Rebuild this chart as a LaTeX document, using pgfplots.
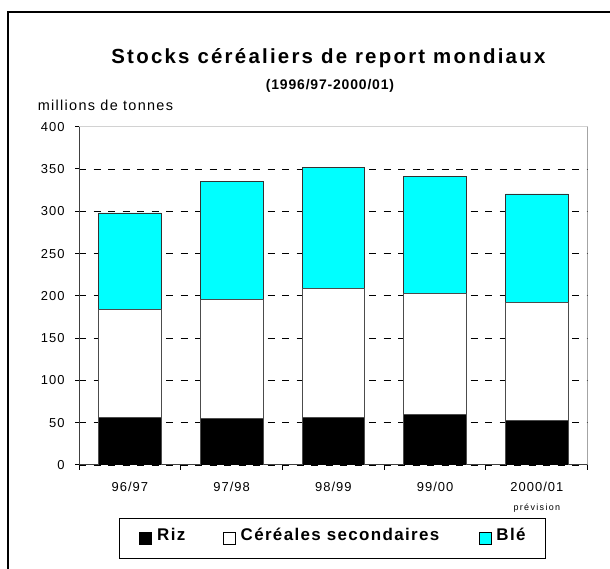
\documentclass[border=0pt]{standalone}
\usepackage{pgfplots}
\pgfplotsset{compat=1.18}
\usepackage{fontspec}
\setmainfont{Liberation Sans}
\definecolor{ble}{RGB}{0,255,255}
\pgfplotsset{
  sqleg/.style={legend image code/.code={\draw[##1, draw=black, line width=0.8bp] (0bp,-6bp) rectangle (12bp,6.3bp); \path (17bp,0bp);}}
}
\begin{document}
\begin{tikzpicture}[x=1bp,y=1bp]
\path[use as bounding box] (0,0) rectangle (610,569);
\draw[line width=1.8bp] (8,-20) -- (8,557) -- (640,557);
\node[anchor=base, inner sep=0, font=\fontsize{20.5}{24}\selectfont\bfseries\addfontfeatures{LetterSpace=11}] at (328.4,505) {Stocks céréaliers de report mondiaux};
\node[anchor=base, inner sep=0, font=\fontsize{14}{16}\selectfont\bfseries\addfontfeatures{LetterSpace=6}] at (330,479) {(1996/97-2000/01)};
\node[anchor=base west, inner sep=0, font=\fontsize{14.5}{16}\selectfont\addfontfeatures{LetterSpace=9}] at (37.7,458.3) {millions de tonnes};
\begin{axis}[
  at={(79bp,104bp)}, anchor=south west, scale only axis,
  width=508.7bp, height=338.3bp,
  ybar stacked, bar width=62.5bp,
  xmin=-0.5, xmax=4.5, ymin=0, ymax=400,
  xtick={0,...,4},
  xticklabels={96/97,97/98,98/99,99/00,{2000/01\\[4bp]{\fontsize{9}{11}\selectfont\addfontfeatures{LetterSpace=15}prévision}}},
  minor xtick={-0.5,0.5,...,4.5},
  major x tick style={draw=none},
  minor x tick style={black, line width=1bp},
  minor tick length=5bp,
  ytick={0,50,...,350},
  extra y ticks={400},
  extra y tick style={major grid style={draw=none}},
  major tick length=4bp,
  y tick style={black, line width=1bp},
  tick align=outside, tick pos=left,
  ymajorgrids,
  major grid style={black, line width=0.7bp, dash pattern=on 7bp off 7.5bp},
  axis line style={draw=none},
  /pgf/number format/assume math mode=true,
  ticklabel style={font=\fontsize{13}{15}\selectfont\addfontfeatures{LetterSpace=8}},
  xticklabel style={align=center, anchor=north, yshift=-10bp},
  yticklabel style={anchor=east, xshift=-7bp},
  legend style={at={(0.0786,-0.1552)}, anchor=north west, draw=black, line width=1bp,
    inner xsep=20bp, inner ysep=0pt, column sep=0pt,
    font=\fontsize{17}{20}\selectfont\bfseries\addfontfeatures{LetterSpace=8},
    nodes={inner sep=0pt, text height=22.3bp, text depth=18.3bp}},
  legend columns=3,
]
\addplot[fill=black, draw=black!70, line width=0.7bp, sqleg] coordinates {(0,56.6) (1,54.7) (2,56.6) (3,59.8) (4,52.7)};
\addlegendentry{\makebox[65.7bp][l]{Riz}}
\addplot[fill=white, draw=black!70, line width=0.7bp, sqleg] coordinates {(0,127.3) (1,141.3) (2,151.9) (3,143.5) (4,140.0)};
\addlegendentry{\makebox[238bp][l]{Céréales secondaires}}
\addplot[fill=ble, draw=black!80, line width=0.7bp, sqleg] coordinates {(0,114.1) (1,139.0) (2,143.0) (3,137.5) (4,127.8)};
\addlegendentry{\makebox[29bp][l]{Blé}}
\draw[black!55, line width=1bp] (rel axis cs:1,0) -- (rel axis cs:1,1);
\draw[gray!35, line width=1.2bp] (rel axis cs:0,1) -- (rel axis cs:1,1);
\draw[gray!75, line width=1.2bp, dash pattern=on 7bp off 7.5bp] (rel axis cs:0,1) -- (rel axis cs:1,1);
\draw[black!75, line width=1.2bp] (rel axis cs:0,1) -- (rel axis cs:0,0) -- (rel axis cs:1,0);
\end{axis}
\end{tikzpicture}
\end{document}
